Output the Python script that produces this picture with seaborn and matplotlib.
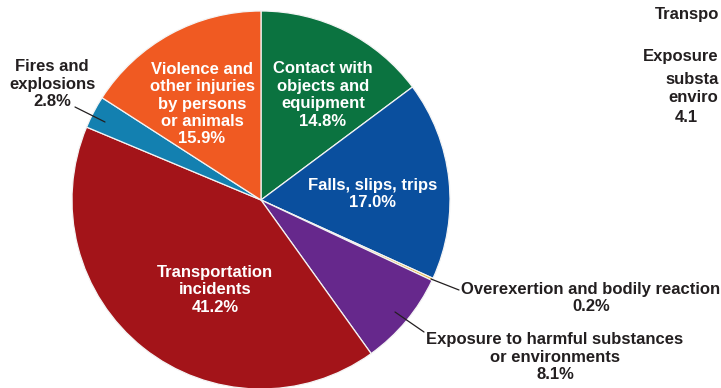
import matplotlib
matplotlib.use("Agg")
import matplotlib.pyplot as plt
import seaborn as sns

# ---- data ----
categories = [
    "Contact with\nobjects and\nequipment",
    "Falls, slips, trips",
    "Overexertion and bodily reaction",
    "Exposure to harmful substances\nor environments",
    "Transportation\nincidents",
    "Fires and\nexplosions",
    "Violence and\nother injuries\nby persons\nor animals",
]
values = [14.8, 17.0, 0.2, 8.1, 41.2, 2.8, 15.9]
colors = ["#0b7340", "#0a4f9e", "#e8b43c", "#66288c", "#a31419", "#1380b0", "#f05a22"]
# text of the neighbouring panel, visible only in part at the right edge
side_labels = ["Transpo", "Exposure", "substa", "enviro", "4.1"]

sns.set_theme(style="white")
plt.rcParams["font.family"] = ["Liberation Sans", "DejaVu Sans"]

W, H = 721, 388
fig = plt.figure(figsize=(W / 100, H / 100), dpi=100)
ax = fig.add_axes([0, 0, 1, 1])

cx, cy, r = 261, H - 200, 189
ax.pie(values, colors=colors, startangle=90, counterclock=False,
       center=(cx, cy), radius=r, frame=False,
       wedgeprops=dict(edgecolor="#f4f4f4", linewidth=0.9))
ax.set_xlim(0, W)
ax.set_ylim(0, H)
ax.set_aspect("equal")
ax.axis("off")

def py(y):
    return H - y

fs = 12
dark = "#231f20"
kw = dict(ha="center", va="center", fontsize=fs, fontweight="bold", linespacing=1.2)

def lab(i, x, y, color):
    ax.text(x, py(y), f"{categories[i]}\n{values[i]:.1f}%", color=color, **kw)

lab(0, 323, 95, "white")
lab(1, 373, 194, "white")
lab(4, 215, 290, "white")
lab(6, 202, 104, "white")
lab(5, 52, 84, dark)
lab(2, 591, 298, dark)
lab(3, 555, 357, dark)

# leader lines
ax.plot([75, 105], [py(107), py(122)], color=dark, lw=0.9)
ax.plot([431, 459], [py(279), py(290)], color=dark, lw=0.9)
ax.plot([395, 424], [py(312), py(332)], color=dark, lw=0.9)

side_pos = [(655, 15), (643, 57), (665, 79), (668, 98), (675, 117)]
for t, (x, y) in zip(side_labels, side_pos):
    ax.text(x, py(y), t, ha="left", va="center", fontsize=fs,
            fontweight="bold", color=dark)

fig.savefig("out.png", dpi=100)
